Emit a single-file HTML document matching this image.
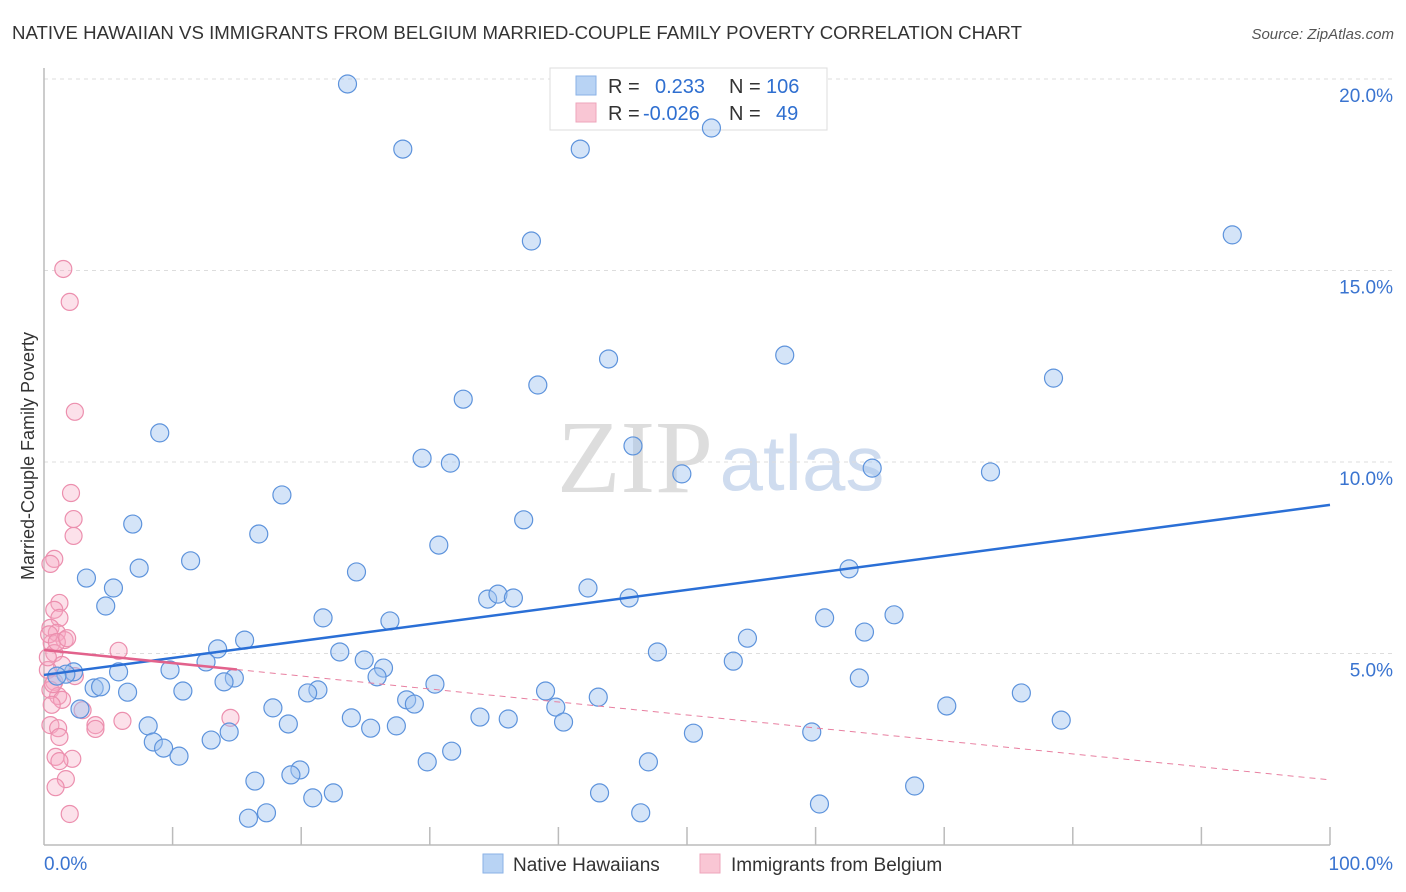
<!DOCTYPE html>
<html><head><meta charset="utf-8"><style>
body{margin:0;background:#fff;font-family:"Liberation Sans",sans-serif}
svg{display:block}
</style></head><body>
<svg id="chart" width="1406" height="892" xmlns="http://www.w3.org/2000/svg">
<text x="12" y="39" font-size="18" fill="#333" textLength="1010" lengthAdjust="spacingAndGlyphs">NATIVE HAWAIIAN VS IMMIGRANTS FROM BELGIUM MARRIED-COUPLE FAMILY POVERTY CORRELATION CHART</text>
<text x="1394" y="39" font-size="15" fill="#555" font-style="italic" text-anchor="end">Source: ZipAtlas.com</text>
<g>
<text x="635" y="492" font-size="104" font-family="Liberation Serif,serif" fill="#ddd" text-anchor="middle">ZIP</text>
<text x="802" y="490" font-size="78" fill="#cfdcef" text-anchor="middle">atlas</text>
</g>
<g id="grid"></g>
<g id="axes"></g>
<g>
<rect x="550" y="68" width="277" height="62" fill="#fff" stroke="#ddd"/>
<rect x="576" y="76" width="20" height="19" fill="#b8d3f4" stroke="#8ab2e6"/>
<rect x="576" y="103" width="20" height="19" fill="#f9c6d4" stroke="#eea5bb"/>
<text x="608" y="93" font-size="20" fill="#333">R = <tspan fill="#2f6fd0" x="655">0.233</tspan><tspan fill="#333" x="729">N =</tspan><tspan fill="#2f6fd0" x="766">106</tspan></text>
<text x="608" y="120" font-size="20" fill="#333">R = <tspan fill="#2f6fd0" x="643">-0.026</tspan><tspan fill="#333" x="729">N =</tspan><tspan fill="#2f6fd0" x="776">49</tspan></text>
</g>
<g id="points"></g>
<g id="trends"></g>
<text transform="translate(34,456) rotate(-90)" font-size="18" fill="#333" text-anchor="middle">Married-Couple Family Poverty</text>
<g>
<rect x="483" y="854" width="20" height="19" fill="#b8d3f4" stroke="#8ab2e6"/>
<text x="513" y="871" font-size="19" fill="#333">Native Hawaiians</text>
<rect x="700" y="854" width="20" height="19" fill="#f9c6d4" stroke="#eea5bb"/>
<text x="731" y="871" font-size="19" fill="#333">Immigrants from Belgium</text>
</g>
</svg>
<script>
const yTicks=[5,10,15,20];
const yTickLabels=["5.0%","10.0%","15.0%","20.0%"];
const xTickVals=[0,10,20,30,40,50,60,70,80,90,100];
const blueX=[23.6,27.9,41.7,51.9,37.9,92.4,43.9,57.6,38.4,78.5,32.6,9.0,45.8,29.4,31.6,49.6,64.4,73.6,18.5,6.9,37.3,16.7,30.7,11.4,7.4,3.3,5.4,24.3,42.3,62.6,34.5,35.3,36.5,45.5,4.8,21.7,26.9,60.7,66.1,63.8,15.6,54.7,13.5,23.0,47.7,12.6,24.9,26.4,9.8,53.6,5.8,2.3,1.7,1.0,25.9,14.8,63.4,14.0,30.4,3.9,4.4,6.5,10.8,21.3,20.5,39.0,76.0,43.1,28.2,28.8,2.8,17.8,39.8,70.2,23.9,33.9,36.1,79.1,8.1,19.0,40.4,25.4,27.4,8.5,13.0,14.4,50.5,59.7,9.3,10.5,31.7,29.8,47.0,19.9,19.2,16.4,67.7,22.5,20.9,43.2,60.3,17.3,15.9,46.4];
const blueY=[19.87,18.17,18.17,18.72,15.77,15.93,12.69,12.79,12.01,12.19,11.64,10.76,10.42,10.10,9.97,9.69,9.84,9.74,9.14,8.38,8.49,8.12,7.83,7.42,7.23,6.97,6.71,7.13,6.71,7.21,6.42,6.55,6.45,6.45,6.24,5.93,5.85,5.93,6.01,5.56,5.35,5.40,5.12,5.04,5.04,4.78,4.83,4.62,4.57,4.80,4.52,4.52,4.46,4.41,4.39,4.36,4.36,4.26,4.20,4.10,4.13,3.99,4.02,4.05,3.97,4.02,3.97,3.86,3.79,3.68,3.55,3.58,3.60,3.63,3.32,3.34,3.29,3.26,3.11,3.16,3.21,3.05,3.11,2.69,2.74,2.95,2.92,2.95,2.53,2.32,2.45,2.17,2.17,1.96,1.83,1.67,1.54,1.36,1.23,1.36,1.07,0.84,0.70,0.84];
const pinkX=[1.5,2.0,2.4,2.1,2.3,2.3,0.8,0.5,1.2,0.8,1.2,0.5,1.0,1.6,0.6,5.8,0.8,1.4,0.3,2.4,0.8,0.5,1.1,1.4,0.6,3.0,6.1,4.0,14.5,0.5,1.1,1.2,4.0,0.9,2.2,1.2,1.7,0.9,2.0,0.4,1.0,1.8,0.3,0.7];
const pinkY=[15.04,14.18,11.31,9.19,8.51,8.07,7.47,7.34,6.32,6.14,5.93,5.67,5.54,5.35,5.27,5.07,5.01,4.70,4.57,4.41,4.26,4.05,3.89,3.79,3.66,3.52,3.24,3.13,3.32,3.13,3.05,2.82,3.03,2.30,2.25,2.19,1.72,1.51,0.81,5.5,5.3,5.4,4.9,4.2];
const blueTrend=[4.44,8.88];
const pinkTrend=[5.09,1.70];
const pinkSolidEnd=15;
const X0=44,X1=1330,Y0=845,YS=38.3;
const xs=v=>X0+(X1-X0)*v/100, ys=v=>Y0-v*YS;
const NS="http://www.w3.org/2000/svg";
function mk(t,a,p){const e=document.createElementNS(NS,t);for(const k in a)e.setAttribute(k,a[k]);document.getElementById(p).appendChild(e);return e;}
yTicks.forEach((v,i)=>{
 const l=mk('line',{x1:X0,x2:1394,y1:ys(v),y2:ys(v),stroke:'#ddd','stroke-dasharray':'4,4'},'grid');
 
 
 const t=mk('text',{x:1393,y:ys(v)+23,'font-size':19,fill:'#3a74d0','text-anchor':'end'},'grid');
 t.textContent=yTickLabels[i];
 
 
});
const ax=mk('line',{x1:X0,x2:X0,y1:68,y2:Y0,stroke:'#bbb','stroke-width':1.5},'axes');


const bx=mk('line',{x1:X0,x2:X1,y1:Y0,y2:Y0,stroke:'#bbb','stroke-width':1.5},'axes');


xTickVals.forEach(v=>{if(v===0)return;
 const t=mk('line',{x1:xs(v),x2:xs(v),y1:Y0-18,y2:Y0,stroke:'#bbb','stroke-width':1.5},'axes');
 
 
});
[["0.0%",X0,'start'],["100.0%",1393,'end']].forEach(d=>{
 const t=mk('text',{x:d[1],y:870,'font-size':19,fill:'#3a74d0','text-anchor':d[2]},'axes');
 t.textContent=d[0];
 
 
});
pinkX.forEach((v,i)=>{
 const c=mk('circle',{cx:xs(v),cy:ys(pinkY[i]),r:8.5,fill:'rgba(247,170,195,0.35)',stroke:'#ec8fae','stroke-width':1.2},'points');
 
 
});
blueX.forEach((v,i)=>{
 const c=mk('circle',{cx:xs(v),cy:ys(blueY[i]),r:9,fill:'rgba(160,195,240,0.45)',stroke:'#5d93dc','stroke-width':1.2},'points');
 
 
});
const bt=mk('line',{x1:xs(0),y1:ys(blueTrend[0]),x2:xs(100),y2:ys(blueTrend[1]),stroke:'#2a6fd6','stroke-width':2.5},'trends');


const pm=pinkTrend[0]+(pinkTrend[1]-pinkTrend[0])*pinkSolidEnd/100;
const pt=mk('line',{x1:xs(0),y1:ys(pinkTrend[0]),x2:xs(pinkSolidEnd),y2:ys(pm),stroke:'#e2628c','stroke-width':2.5},'trends');


const pd=mk('line',{x1:xs(pinkSolidEnd),y1:ys(pm),x2:xs(100),y2:ys(pinkTrend[1]),stroke:'#e87fa0','stroke-width':1,'stroke-dasharray':'6,5'},'trends');


</script>
</body></html>
